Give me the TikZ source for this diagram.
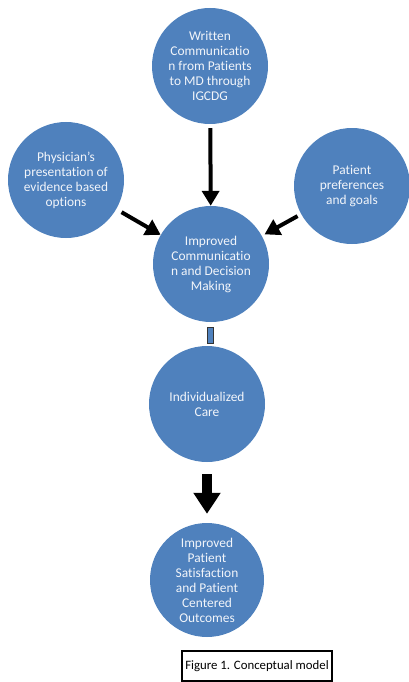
\documentclass[tikz,border=0pt]{standalone}
\usepackage{fontspec}
\setmainfont[Ligatures={NoCommon}]{Carlito}
\usetikzlibrary{arrows.meta}
\definecolor{cblue}{HTML}{4F81BD}
\definecolor{ctext}{HTML}{F2F5FA}
\begin{document}
\begin{tikzpicture}[x=1pt,y=-1pt,
  bub/.style={circle,fill=cblue,minimum size=116pt,inner sep=0pt,text=ctext,align=center,font=\fontsize{13.4}{15}\selectfont},
  arr/.style={line width=4pt,-{Triangle[width=17pt,length=15pt]}},
  bigarr/.style={line width=10pt,-{Triangle[width=26pt,length=21pt]}}]
\useasboundingbox (0,0) rectangle (408,682);
\node[bub] (top) at (210,66) {Written\\Communicatio\\n from Patients\\to MD through\\IGCDG};
\node[bub] (left) at (66,180) {Physician’s\\presentation of\\evidence based\\options};
\node[bub] (right) at (352,186) {Patient\\preferences\\and goals};
\node[bub] (mid) at (211,264) {Improved\\Communicatio\\n and Decision\\Making};
\node[bub] (indiv) at (207,404) {Individualized\\Care};
\node[bub,minimum size=114pt] (bot) at (207,580) {Improved\\Patient\\Satisfaction\\and Patient\\Centered\\Outcomes};
\node[rectangle,fill=cblue,draw=black!80,line width=0.8pt,minimum width=6pt,minimum height=16pt,inner sep=0pt] (link) at (210,335) {};
\draw[arr,shorten <=4pt] (top) -- (mid);
\draw[arr,shorten <=6pt] (left) -- (mid);
\draw[arr,shorten <=4pt,shorten >=3pt] (right) -- (mid);
\draw[bigarr,shorten <=12pt,shorten >=9pt] (indiv) -- (bot);
\node[draw=black,line width=1.3pt,minimum width=150pt,minimum height=30pt,font=\fontsize{12.8}{14}\selectfont] (cap) at (257,666) {Figure 1. Conceptual model};
\end{tikzpicture}
\end{document}
